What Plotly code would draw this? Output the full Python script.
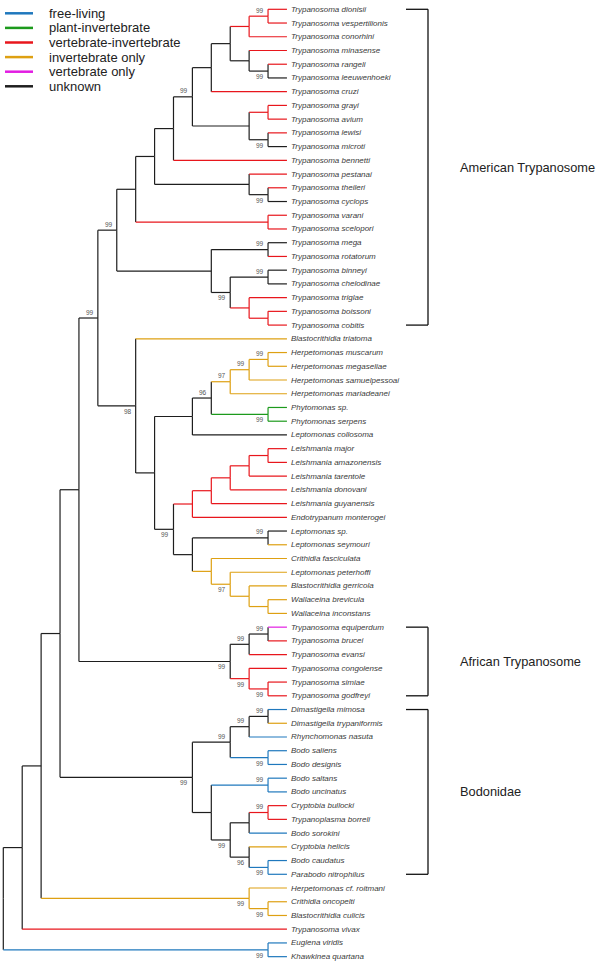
import plotly.graph_objects as go

# ---------------- data ----------------
tip_names = [
    "Trypanosoma dionisii", "Trypanosoma vespertilionis", "Trypanosoma conorhini",
    "Trypanosoma minasense", "Trypanosoma rangeli", "Trypanosoma leeuwenhoeki",
    "Trypanosoma cruzi", "Trypanosoma grayi", "Trypanosoma avium", "Trypanosoma lewisi",
    "Trypanosoma microti", "Trypanosoma bennetti", "Trypanosoma pestanai",
    "Trypanosoma theileri", "Trypanosoma cyclops", "Trypanosoma varani",
    "Trypanosoma scelopori", "Trypanosoma mega", "Trypanosoma rotatorum",
    "Trypanosoma binneyi", "Trypanosoma chelodinae", "Trypanosoma triglae",
    "Trypanosoma boissoni", "Trypanosoma cobitis", "Blastocrithidia triatoma",
    "Herpetomonas muscarum", "Herpetomonas megaseliae", "Herpetomonas samuelpessoai",
    "Herpetomonas mariadeanei", "Phytomonas sp.", "Phytomonas serpens",
    "Leptomonas collosoma", "Leishmania major", "Leishmania amazonensis",
    "Leishmania tarentole", "Leishmania donovani", "Leishmania guyanensis",
    "Endotrypanum monterogei", "Leptomonas sp.", "Leptomonas seymouri",
    "Crithidia fasciculata", "Leptomonas peterhoffi", "Blastocrithidia gerricola",
    "Wallaceina brevicula", "Wallaceina inconstans", "Trypanosoma equiperdum",
    "Trypanosoma brucei", "Trypanosoma evansi", "Trypanosoma congolense",
    "Trypanosoma simiae", "Trypanosoma godfreyi", "Dimastigella mimosa",
    "Dimastigella trypaniformis", "Rhynchomonas nasuta", "Bodo saliens",
    "Bodo designis", "Bodo saltans", "Bodo uncinatus", "Cryptobia bullocki",
    "Trypanoplasma borreli", "Bodo sorokini", "Cryptobia helicis", "Bodo caudatus",
    "Parabodo nitrophilus", "Herpetomonas cf. roitmani", "Crithidia oncopelti",
    "Blastocrithidia culicis", "Trypanosoma vivax", "Euglena viridis",
    "Khawkinea quartana",
]

tip_states = [
    "vi", "vi", "vi", "vi", "vi", "unk", "vi", "vi", "vi", "vi",
    "unk", "vi", "vi", "vi", "unk", "vi", "vi", "unk", "vi", "unk",
    "unk", "vi", "vi", "vi", "inv", "inv", "inv", "inv", "inv", "plant",
    "plant", "unk", "vi", "vi", "vi", "vi", "vi", "vi", "unk", "inv",
    "inv", "inv", "inv", "inv", "inv", "vert", "vi", "vi", "vi", "vi",
    "vi", "free", "inv", "free", "free", "free", "free", "free", "vi", "vi",
    "free", "inv", "free", "free", "inv", "inv", "inv", "vi", "free", "free",
]

# internal nodes (post-order): name, child 1, child 2, level above tips, state, support, label side
nodes = [
    ("A", 0, 1, 1, "vi", "99", "up"),
    ("B", "A", 2, 2, "vi", "", ""),
    ("C", 4, 5, 1, "unk", "99", "down"),
    ("D", 3, "C", 2, "unk", "", ""),
    ("E", "B", "D", 3, "unk", "", ""),
    ("F", "E", 6, 4, "unk", "", ""),
    ("G", 7, 8, 1, "vi", "", ""),
    ("H", 9, 10, 1, "unk", "99", "down"),
    ("I", "G", "H", 2, "unk", "", ""),
    ("J", "F", "I", 5, "unk", "99", "up"),
    ("K", "J", 11, 6, "unk", "", ""),
    ("M", 13, 14, 1, "unk", "99", "down"),
    ("N", 12, "M", 2, "unk", "", ""),
    ("Q", "K", "N", 7, "unk", "", ""),
    ("O", 15, 16, 1, "vi", "", ""),
    ("R", "Q", "O", 8, "unk", "", ""),
    ("U", 17, 18, 1, "unk", "99", "up"),
    ("V", 19, 20, 1, "unk", "99", "up"),
    ("W", 22, 23, 1, "vi", "", ""),
    ("X", 21, "W", 2, "vi", "", ""),
    ("Y", "V", "X", 3, "unk", "99", "down"),
    ("T", "U", "Y", 4, "unk", "", ""),
    ("S", "R", "T", 9, "unk", "99", "up"),
    ("HH", 25, 26, 1, "inv", "99", "up"),
    ("GG", "HH", 27, 2, "inv", "99", "up"),
    ("FF", "GG", 28, 3, "inv", "97", "up"),
    ("II", 29, 30, 1, "plant", "99", "down"),
    ("EE", "FF", "II", 4, "unk", "96", "up"),
    ("CC", "EE", 31, 5, "unk", "", ""),
    ("OO", 32, 33, 1, "vi", "", ""),
    ("NN", "OO", 34, 2, "vi", "", ""),
    ("MM", "NN", 35, 3, "vi", "", ""),
    ("LL", "MM", 36, 4, "vi", "", ""),
    ("JJ", "LL", 37, 5, "vi", "", ""),
    ("PP", 38, 39, 1, "unk", "99", "up"),
    ("TT", 43, 44, 1, "inv", "", ""),
    ("SS", 42, "TT", 2, "inv", "", ""),
    ("RR", 41, "SS", 3, "inv", "97", "down"),
    ("QQ", 40, "RR", 4, "inv", "", ""),
    ("KK", "PP", "QQ", 5, "unk", "", ""),
    ("DD", "JJ", "KK", 6, "unk", "99", "down"),
    ("BB", "CC", "DD", 7, "unk", "", ""),
    ("AA", 24, "BB", 8, "unk", "98", "down"),
    ("Z", "S", "AA", 10, "unk", "99", "up"),
    ("UU", 45, 46, 1, "unk", "99", "up"),
    ("VV", "UU", 47, 2, "unk", "99", "up"),
    ("WW", 49, 50, 1, "vi", "99", "down"),
    ("XX", 48, "WW", 2, "vi", "99", "down"),
    ("YY", "VV", "XX", 3, "unk", "99", "down"),
    ("ZZ", "Z", "YY", 11, "unk", "", ""),
    ("a", 51, 52, 1, "unk", "99", "up"),
    ("b", "a", 53, 2, "unk", "99", "up"),
    ("c", 54, 55, 1, "free", "99", "down"),
    ("d", "b", "c", 3, "unk", "99", "up"),
    ("e", 56, 57, 1, "free", "99", "up"),
    ("f", 58, 59, 1, "vi", "99", "up"),
    ("g", "f", 60, 2, "unk", "", ""),
    ("h", 62, 63, 1, "free", "99", "down"),
    ("i", 61, "h", 2, "unk", "96", "down"),
    ("j", "g", "i", 3, "unk", "99", "down"),
    ("k", "e", "j", 4, "unk", "", ""),
    ("l", "d", "k", 5, "unk", "99", "down"),
    ("mm", "ZZ", "l", 12, "unk", "", ""),
    ("n", 65, 66, 1, "inv", "99", "down"),
    ("o", 64, "n", 2, "inv", "99", "down"),
    ("oo", "mm", "o", 13, "unk", "", ""),
    ("pp", "oo", 67, 14, "unk", "", ""),
    ("qq", 68, 69, 1, "free", "99", "down"),
    ("root", "pp", "qq", 15, "unk", "", ""),
]

legend_states = ["free", "plant", "vi", "inv", "vert", "unk"]
legend_labels = ["free-living", "plant-invertebrate", "vertebrate-invertebrate",
                 "invertebrate only", "vertebrate only", "unknown"]

clade_names = ["American Trypanosome", "African Trypanosome", "Bodonidae"]
clade_first = ["Trypanosoma dionisii", "Trypanosoma equiperdum", "Dimastigella mimosa"]
clade_last = ["Trypanosoma cobitis", "Trypanosoma godfreyi", "Parabodo nitrophilus"]

# ---------------- styling ----------------
state_colors = {
    "free": "#1f78bd",
    "plant": "#1c9a1c",
    "vi": "#e8161c",
    "inv": "#dea012",
    "vert": "#e21de2",
    "unk": "#1e1e1e",
}
W, H = 600, 969
TIP_LEVEL = 15
X_PX0, X_STEP = 3.3, 18.91      # pixel of root, pixels per level
Y_PX0, Y_STEP = 9.3, 13.73      # pixel of first tip, pixels per tip
FONT = "Liberation Sans, Arial, sans-serif"

# ---------------- layout of the tree ----------------
pos = {}
state = {}
for i, s in enumerate(tip_states):
    pos[i] = (TIP_LEVEL, float(i))
    state[i] = s
for name, c1, c2, lvl, st, sup, side in nodes:
    pos[name] = (TIP_LEVEL - lvl, (pos[c1][1] + pos[c2][1]) / 2.0)
    state[name] = st

segs = {k: ([], []) for k in state_colors}
for name, c1, c2, lvl, st, sup, side in nodes:
    xp, yp = pos[name]
    for c in (c1, c2):
        xc, yc = pos[c]
        vx, vy = segs[st]
        vx += [xp, xp, None]
        vy += [yp, yc, None]
        hx, hy = segs[state[c]]
        hx += [xp, xc, None]
        hy += [yc, yc, None]

fig = go.Figure()
for st in ["unk", "free", "plant", "inv", "vi", "vert"]:
    xs, ys = segs[st]
    if not xs:
        continue
    fig.add_trace(go.Scatter(x=xs, y=ys, mode="lines",
                             line=dict(color=state_colors[st], width=1.2),
                             hoverinfo="skip", showlegend=False))

annotations = []
for i, nm in enumerate(tip_names):
    annotations.append(dict(x=TIP_LEVEL, y=i, text="<i>%s</i>" % nm, showarrow=False,
                            xanchor="left", yanchor="middle", xshift=2,
                            font=dict(family=FONT, size=8, color="#3a3a3a")))
for name, c1, c2, lvl, st, sup, side in nodes:
    if sup:
        x, y = pos[name]
        annotations.append(dict(x=x, y=y, text=sup, showarrow=False,
                                xanchor="right", yanchor="middle", xshift=-2,
                                yshift=6 if side == "up" else -5.5,
                                font=dict(family=FONT, size=6.5, color="#555555")))

shapes = []
BR_X0, BR_X1, LBL_X = 406, 428, 458
for cname, first, last in zip(clade_names, clade_first, clade_last):
    y0 = tip_names.index(first)
    y1 = tip_names.index(last)
    x0 = (BR_X0 - X_PX0) / X_STEP
    x1 = (BR_X1 - X_PX0) / X_STEP
    for seg in ((x0, y0, x1, y0), (x1, y0, x1, y1), (x0, y1, x1, y1)):
        shapes.append(dict(type="line", xref="x", yref="y", x0=seg[0], y0=seg[1],
                           x1=seg[2], y1=seg[3], line=dict(color="#111111", width=1.3)))
    annotations.append(dict(x=(LBL_X - X_PX0) / X_STEP, y=(y0 + y1) / 2.0, text=cname,
                            showarrow=False, xanchor="left", yanchor="middle",
                            font=dict(family=FONT, size=12.8, color="#222222")))

for k, (st, lab) in enumerate(zip(legend_states, legend_labels)):
    py = 13.3 + 14.6 * k
    shapes.append(dict(type="line", xref="paper", yref="paper",
                       x0=5 / W, x1=33 / W, y0=1 - py / H, y1=1 - py / H,
                       line=dict(color=state_colors[st], width=2.5)))
    annotations.append(dict(x=47 / W, y=1 - py / H, xref="paper", yref="paper",
                            text=lab, showarrow=False, xanchor="left", yanchor="middle",
                            font=dict(family=FONT, size=13, color="#222222")))

x_lo = -X_PX0 / X_STEP
x_hi = x_lo + W / X_STEP
y_top = -Y_PX0 / Y_STEP
y_bot = y_top + H / Y_STEP

fig.update_layout(
    width=W, height=H, margin=dict(l=0, r=0, t=0, b=0),
    paper_bgcolor="white", plot_bgcolor="white",
    xaxis=dict(range=[x_lo, x_hi], visible=False, fixedrange=True),
    yaxis=dict(range=[y_bot, y_top], visible=False, fixedrange=True),
    annotations=annotations, shapes=shapes, showlegend=False,
)
fig.write_html("out.html", config={"displayModeBar": False},
               post_script="document.body.style.margin='0px';document.body.style.overflow='hidden';")
